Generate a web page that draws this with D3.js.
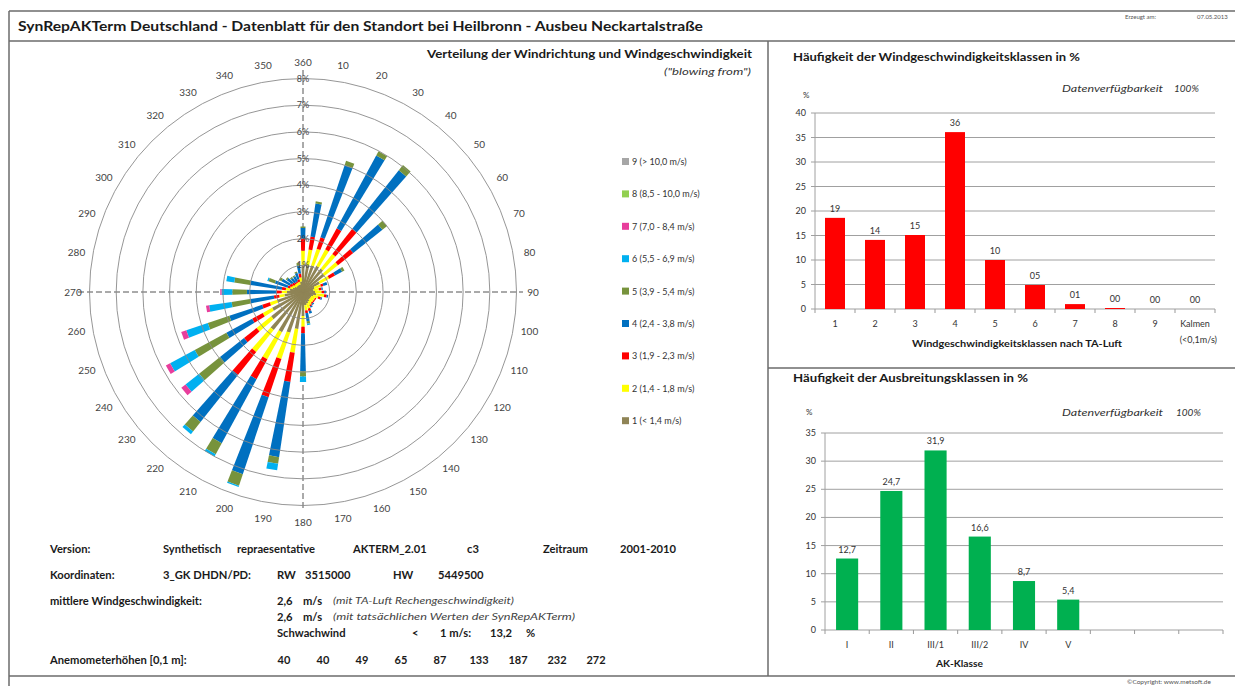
<!DOCTYPE html>
<html>
<head>
<meta charset="utf-8">
<script src="https://cdnjs.cloudflare.com/ajax/libs/d3/7.8.5/d3.min.js"></script>
<style>
  body { margin: 0; background: #fff; }
  svg { font-family: Lato, "Open Sans", sans-serif; }
  .frame { stroke: #6b6b6b; stroke-width: 1.5; fill: none; }
  .ring { fill: none; stroke: #8a8a8a; stroke-width: 0.9; }
  .cross { stroke: #555; stroke-width: 1; stroke-dasharray: 6 3; }
  .grid { stroke: #a0a0a0; stroke-width: 1; }
  .small { font-size: 9px; fill: #333; }
  .bold { font-weight: bold; fill: #1a1a1a; }
</style>
</head>
<body>
<svg width="1235" height="686"></svg>
<script>
// wind directions (blowing from), 10..360 degrees
var directions = [10,20,30,40,50,60,70,80,90,100,110,120,130,140,150,160,170,180,
                  190,200,210,220,230,240,250,260,270,280,290,300,310,320,330,340,350,360];
// frequency (%) per speed class and direction
var k1 = [1.0,1.05,1.1,1.1,1.0,0.7,0.45,0.4,0.45,0.5,0.4,0.35,0.35,0.35,0.4,0.45,0.5,0.9,
          1.4,1.6,1.7,1.8,1.5,1.3,1.0,0.7,0.6,0.5,0.4,0.35,0.3,0.3,0.3,0.3,0.4,1.0];
var k2 = [0.6,0.65,0.7,0.7,0.65,0.4,0.25,0.2,0.25,0.3,0.2,0.15,0.15,0.15,0.15,0.2,0.2,0.4,
          0.9,1.04,1.15,1.05,0.7,0.4,0.3,0.2,0.2,0.15,0.1,0.1,0.1,0.1,0.1,0.1,0.15,0.55];
var k3 = [0.5,0.45,0.9,1.2,0.73,0.25,0.1,0.1,0.1,0.1,0.1,0.05,0.05,0.05,0.05,0.1,0.1,0.25,
          1.1,1.51,0.85,1.1,0.6,0.45,0.3,0.2,0.2,0.15,0.1,0.1,0.1,0.05,0.05,0.1,0.15,0.45];
var k4 = [1.25,2.85,3.1,2.8,1.4,0.3,0.15,0.05,0.05,0.05,0.05,0,0,0.05,0.05,0.1,0.3,1.42,
          2.85,3.04,2.73,2.25,1.15,1.1,1.3,0.9,1.1,1.2,0.5,0.35,0.25,0.2,0.2,0.25,0.3,0.4];
var k5 = [0.08,0.17,0.18,0.25,0.22,0.1,0,0,0,0,0,0,0,0,0,0,0.1,0.2,
          0.25,0.45,0.47,0.45,1.0,1.35,0.85,0.7,0.55,0.6,0.25,0.1,0.05,0.05,0.05,0.05,0.1,0.05];
var k6 = [0,0,0,0,0,0,0,0,0,0,0,0,0,0,0,0,0.05,0.2,
          0.25,0.05,0.1,0.13,0.65,1.05,0.85,0.85,0.4,0.3,0.05,0,0,0,0,0,0,0];
var k7 = [0,0,0,0,0,0,0,0,0,0,0,0,0,0,0,0,0,0,
          0,0,0,0,0.2,0.18,0.2,0.12,0.05,0,0,0,0,0,0,0,0,0];
var k8 = [0,0,0,0,0,0,0,0,0,0,0,0,0,0,0,0,0,0,0,0,0,0,0,0,0,0,0,0,0,0,0,0,0,0,0,0];
var k9 = [0,0,0,0,0,0,0,0,0,0,0,0,0,0,0,0,0,0,0,0,0,0,0,0,0,0,0,0,0,0,0,0,0,0,0,0];
var speedClasses = ["1 (< 1,4 m/s)","2 (1,4 - 1,8 m/s)","3 (1,9 - 2,3 m/s)","4 (2,4 - 3,8 m/s)",
                    "5 (3,9 - 5,4 m/s)","6 (5,5 - 6,9 m/s)","7 (7,0 - 8,4 m/s)","8 (8,5 - 10,0 m/s)","9 (> 10,0 m/s)"];
var classColors = ["#8f8456","#ffff00","#ff0000","#0070c0","#77933c","#00b0f0","#e83e9c","#92d050","#a6a6a6"];
var ringTicks = [1,2,3,4,5,6,7,8];

// speed class frequencies (TA-Luft)
var taClasses = ["1","2","3","4","5","6","7","8","9","Kalmen"];
var taValues = [18.6,14.1,15.1,36.1,10.0,4.9,1.0,0.2,0,0];
// stability classes
var akClasses = ["I","II","III/1","III/2","IV","V","","",""];
var akValues = [12.7,24.7,31.9,16.6,8.7,5.4,null,null,null];

var anemoHeights = [40,40,49,65,87,133,187,232,272];

var svg = d3.select("svg");

function fit(sel, w) {
  sel.attr("textLength", w).attr("lengthAdjust", "spacingAndGlyphs");
  return sel;
}
function txt(x, y, s, size, cls) {
  return svg.append("text").attr("x", x).attr("y", y).attr("font-size", size)
    .attr("class", cls || "").text(s);
}

// ---------- page frame ----------
svg.append("line").attr("class", "frame").attr("x1", 9).attr("x2", 1235).attr("y1", 11).attr("y2", 11);
svg.append("line").attr("class", "frame").attr("x1", 9).attr("x2", 1235).attr("y1", 41).attr("y2", 41);
svg.append("line").attr("class", "frame").attr("x1", 9).attr("x2", 9).attr("y1", 11).attr("y2", 686);
svg.append("line").attr("class", "frame").attr("x1", 768).attr("x2", 768).attr("y1", 41).attr("y2", 676);
svg.append("line").attr("class", "frame").attr("x1", 768).attr("x2", 1235).attr("y1", 368).attr("y2", 368);
svg.append("line").attr("class", "frame").attr("x1", 9).attr("x2", 1235).attr("y1", 676).attr("y2", 676);

fit(txt(18, 31, "SynRepAKTerm Deutschland - Datenblatt für den Standort bei Heilbronn - Ausbeu Neckartalstraße", 14, "bold"), 685);
txt(1125, 19, "Erzeugt am:", 6).attr("fill", "#555");
txt(1197, 19, "07.05.2013", 6).attr("fill", "#555");
txt(1127, 684, "©Copyright:  www.metsoft.de", 6.5).attr("fill", "#555");

// ---------- wind rose ----------
var cx = 303, cy = 292;
var r = d3.scaleLinear().domain([0, 8]).range([0, 213.5]);
var rose = svg.append("g").attr("transform", "translate(" + cx + "," + cy + ")");

rose.append("line").attr("class", "cross").attr("x1", -225).attr("x2", 220).attr("y1", 0).attr("y2", 0);
rose.append("line").attr("class", "cross").attr("x1", 0).attr("x2", 0).attr("y1", -222).attr("y2", 218);

var layers = [k1, k2, k3, k4, k5, k6, k7, k8, k9];
// spokes widen slightly with distance from the centre
function halfW(px) { return (1.6 + 0.052 * px) / 2; }
function segment(a, b) {
  var ra = r(a), rb = r(b);
  return "M" + (-halfW(ra)) + "," + (-ra) + "L" + halfW(ra) + "," + (-ra) +
         "L" + halfW(rb) + "," + (-rb) + "L" + (-halfW(rb)) + "," + (-rb) + "Z";
}
directions.forEach(function (dir, i) {
  var g = rose.append("g").attr("transform", "rotate(" + dir + ")");
  var acc = 0;
  layers.forEach(function (arr, j) {
    var v = arr[i];
    if (v > 0) {
      g.append("path").attr("d", segment(acc, acc + v)).attr("fill", classColors[j]);
    }
    acc += v;
  });
});

rose.selectAll("circle.ring").data(ringTicks).enter().append("circle")
  .attr("class", "ring").attr("r", function (d) { return r(d); });

rose.selectAll("text.rt").data(ringTicks).enter().append("text")
  .attr("class", "rt").attr("x", 0).attr("y", function (d) { return -r(d) + 3; })
  .attr("text-anchor", "middle").attr("font-size", 9).attr("fill", "#444")
  .text(function (d) { return d + "%"; });

rose.selectAll("text.dir").data(directions).enter().append("text")
  .attr("class", "dir")
  .attr("x", function (d) { return Math.sin(d * Math.PI / 180) * 230; })
  .attr("y", function (d) { return -Math.cos(d * Math.PI / 180) * 230 + 3.5; })
  .attr("text-anchor", "middle").attr("font-size", 10).attr("fill", "#444")
  .text(function (d) { return d; });

fit(txt(427, 58, "Verteilung der Windrichtung und Windgeschwindigkeit", 12, "bold"), 325);
fit(txt(664, 75, "(\"blowing from\")", 10).attr("font-style", "italic").attr("fill", "#333"), 87);

// legend
var leg = svg.append("g");
var legRows = speedClasses.slice().reverse();
var legCols = classColors.slice().reverse();
leg.selectAll("rect").data(legRows).enter().append("rect")
  .attr("x", 622).attr("y", function (d, i) { return 158 + i * 32.4; })
  .attr("width", 7).attr("height", 7)
  .attr("fill", function (d, i) { return legCols[i]; });
leg.selectAll("text").data(legRows).enter().append("text")
  .attr("x", 632).attr("y", function (d, i) { return 165 + i * 32.4; })
  .attr("font-size", 9).attr("fill", "#333")
  .text(function (d) { return d; });

// ---------- bar chart helper ----------
function barChart(opt) {
  var g = svg.append("g");
  var x = d3.scaleBand().domain(d3.range(opt.labels.length))
    .range([opt.x0, opt.x1]).paddingInner(0.5).paddingOuter(0.25);
  var y = d3.scaleLinear().domain([0, opt.max]).range([opt.y0, opt.y1]);
  var ticks = d3.range(0, opt.max + 1, 5);

  g.selectAll("line.grid").data(ticks).enter().append("line")
    .attr("class", "grid")
    .attr("x1", opt.x0 - 4).attr("x2", opt.x1)
    .attr("y1", function (d) { return y(d); }).attr("y2", function (d) { return y(d); });
  g.append("line").attr("x1", opt.x0).attr("x2", opt.x0).attr("y1", opt.y1).attr("y2", opt.y0)
    .attr("stroke", "#a0a0a0");
  var step = x.step();
  g.selectAll("line.xt").data(d3.range(opt.labels.length + 1)).enter().append("line")
    .attr("x1", function (d) { return opt.x0 + d * step; })
    .attr("x2", function (d) { return opt.x0 + d * step; })
    .attr("y1", opt.y0).attr("y2", opt.y0 + 4).attr("stroke", "#999");

  g.selectAll("text.yl").data(ticks).enter().append("text")
    .attr("class", "small").attr("x", opt.x0 - 9).attr("y", function (d) { return y(d) + 3; })
    .attr("text-anchor", "end").text(function (d) { return d; });

  var data = opt.values.map(function (v, i) { return { i: i, v: v }; })
    .filter(function (d) { return d.v !== null; });
  g.selectAll("rect.bar").data(data).enter().append("rect")
    .attr("x", function (d) { return x(d.i); })
    .attr("width", x.bandwidth())
    .attr("y", function (d) { return y(d.v); })
    .attr("height", function (d) { return opt.y0 - y(d.v); })
    .attr("fill", opt.color);
  g.selectAll("text.vl").data(data).enter().append("text")
    .attr("class", "small")
    .attr("x", function (d) { return x(d.i) + x.bandwidth() / 2; })
    .attr("y", function (d) { return y(d.v) - 6; })
    .attr("text-anchor", "middle").text(function (d) { return opt.fmt(d.v); });

  g.selectAll("text.xl").data(opt.labels).enter().append("text")
    .attr("class", "small")
    .attr("x", function (d, i) { return x(i) + x.bandwidth() / 2; })
    .attr("y", opt.y0 + 18)
    .attr("text-anchor", "middle").text(function (d) { return d; });
  return { x: x, y: y };
}

// chart 1
fit(txt(793, 61, "Häufigkeit der Windgeschwindigkeitsklassen in %", 12, "bold"), 287);
txt(803, 98, "%", 8).attr("fill", "#333");
fit(txt(1062, 92, "Datenverfügbarkeit", 10).attr("font-style", "italic").attr("fill", "#333"), 101);
txt(1174, 92, "100%", 10).attr("font-style", "italic").attr("fill", "#333");
barChart({
  labels: taClasses, values: taValues, max: 40,
  x0: 815, x1: 1215, y0: 309, y1: 113, color: "#ff0000",
  fmt: d3.format("02.0f")
});
txt(1217, 343, "(<0,1m/s)", 9, "small").attr("text-anchor", "end");
fit(txt(912, 347, "Windgeschwindigkeitsklassen nach TA-Luft", 9.5, "bold"), 210);

// chart 2
fit(txt(793, 382, "Häufigkeit der Ausbreitungsklassen in %", 12, "bold"), 235);
txt(806, 415, "%", 8).attr("fill", "#333");
fit(txt(1062, 416, "Datenverfügbarkeit", 10).attr("font-style", "italic").attr("fill", "#333"), 101);
txt(1176, 416, "100%", 10).attr("font-style", "italic").attr("fill", "#333");
barChart({
  labels: akClasses, values: akValues, max: 35,
  x0: 825, x1: 1223, y0: 630, y1: 433, color: "#00b050",
  fmt: function (v) { return d3.format(".1f")(v).replace(".", ","); }
});
fit(txt(936, 667, "AK-Klasse", 9.5, "bold"), 47);

// ---------- metadata block ----------
var rows = [
  [553, [[50, "Version:"], [163, "Synthetisch"], [237, "repraesentative"], [353, "AKTERM_2.01"],
         [467, "c3"], [543, "Zeitraum"], [620, "2001-2010"]]],
  [579, [[50, "Koordinaten:"], [163, "3_GK DHDN/PD:"], [277, "RW"], [305, "3515000"],
         [393, "HW"], [438, "5449500"]]],
  [605, [[50, "mittlere Windgeschwindigkeit:"], [277, "2,6"], [303, "m/s"]]],
  [621, [[277, "2,6"], [303, "m/s"]]],
  [637, [[277, "Schwachwind"], [412, "<"], [440, "1 m/s:"], [490, "13,2"], [526, "%"]]]
];
rows.forEach(function (row) {
  row[1].forEach(function (c) { txt(c[0], row[0], c[1], 11.2, "bold"); });
});
fit(txt(333, 604, "(mit TA-Luft Rechengeschwindigkeit)", 9.5).attr("font-style", "italic").attr("fill", "#444"), 181);
fit(txt(333, 620, "(mit tatsächlichen Werten der SynRepAKTerm)", 9.5).attr("font-style", "italic").attr("fill", "#444"), 242);
txt(50, 664, "Anemometerhöhen [0,1 m]:", 11.2, "bold");
var hx = d3.scalePoint().domain(d3.range(anemoHeights.length)).range([284, 596]);
svg.selectAll("text.ah").data(anemoHeights).enter().append("text")
  .attr("class", "bold").attr("font-size", 11)
  .attr("x", function (d, i) { return hx(i); }).attr("y", 664)
  .attr("text-anchor", "middle").text(function (d) { return d; });
</script>
</body>
</html>
